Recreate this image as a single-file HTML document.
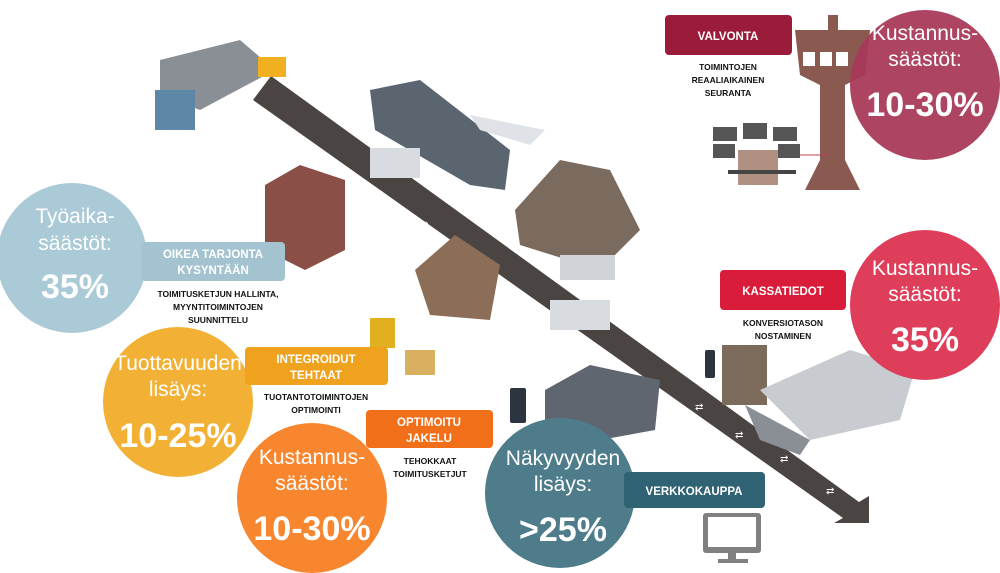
<!DOCTYPE html>
<html><head><meta charset="utf-8"><style>
html,body{margin:0;padding:0;background:#fff;}
body{width:1000px;height:573px;overflow:hidden;position:relative;}
svg{position:absolute;left:0;top:0;}
text{font-family:"Liberation Sans",Arial,sans-serif;}
</style></head><body>
<svg width="1000" height="573" viewBox="0 0 1000 573">
<!-- road -->
<polygon points="271,76 859,502 869,496 869,523 834,523 843,518 253,100" fill="#4a4542"/>
<g fill="#fff" font-size="10">
<text x="288" y="136">⇄</text><text x="375" y="197">⇄</text><text x="420" y="228">⇄</text>
<text x="460" y="258">⇄</text><text x="650" y="395">⇄</text><text x="695" y="410">⇄</text>
<text x="735" y="438">⇄</text><text x="780" y="462">⇄</text><text x="826" y="494">⇄</text>
</g>
<!-- illustrations (approx) -->
<g>
<polygon points="160,60 240,40 275,70 200,110 160,95" fill="#8a8f96"/>
<rect x="155" y="90" width="40" height="40" fill="#5d87a6"/>
<rect x="258" y="57" width="28" height="20" fill="#f0b020"/>
<polygon points="265,185 300,165 345,180 345,250 305,270 265,250" fill="#8a5048"/>
<polygon points="370,90 420,80 510,150 505,190 470,185 375,130" fill="#5a6570"/>
<polygon points="470,115 545,130 530,145 480,130" fill="#dfe3e8"/>
<rect x="370" y="148" width="50" height="30" fill="#d8dce0"/>
<polygon points="515,210 560,160 610,170 640,230 600,270 520,245" fill="#7b6a5e"/>
<rect x="560" y="255" width="55" height="25" fill="#d0d4d8"/>
<polygon points="415,270 455,235 500,265 490,320 430,315" fill="#8c6e58"/>
<rect x="550" y="300" width="60" height="30" fill="#d8dce0"/>
<rect x="405" y="350" width="30" height="25" fill="#d9b060"/>
<rect x="370" y="318" width="25" height="30" fill="#e0b020"/>
<polygon points="545,390 590,365 660,380 655,430 600,440 545,420" fill="#5f6670"/>
<rect x="510" y="388" width="16" height="35" rx="2" fill="#2c3440"/>
<rect x="705" y="350" width="10" height="28" rx="2" fill="#2c3440"/>
<rect x="722" y="345" width="45" height="60" fill="#7c6a5a"/>
<polygon points="760,390 850,350 915,370 900,420 810,440" fill="#c8ccd0"/>
<polygon points="745,405 810,440 800,455 760,440" fill="#8a8f96"/>
<!-- monitor -->
<rect x="703" y="513" width="58" height="40" rx="3" fill="#808080"/>
<rect x="708" y="517" width="48" height="30" fill="#fff"/>
<rect x="728" y="553" width="8" height="8" fill="#808080"/><rect x="718" y="559" width="30" height="4" fill="#808080"/>
<!-- tower -->
<polygon points="828,15 838,15 838,30 828,30" fill="#8a5a50"/>
<polygon points="795,30 870,30 865,75 845,85 845,160 860,190 805,190 820,160 820,85 800,75" fill="#8a5a50"/>
<rect x="803" y="52" width="12" height="14" fill="#fff"/><rect x="820" y="52" width="12" height="14" fill="#fff"/><rect x="836" y="52" width="12" height="14" fill="#fff"/>
<line x1="795" y1="155" x2="830" y2="155" stroke="#c04050" stroke-width="1"/>
<g fill="#555"><rect x="713" y="127" width="24" height="14"/><rect x="743" y="123" width="24" height="16"/><rect x="773" y="127" width="24" height="14"/><rect x="713" y="144" width="22" height="14"/><rect x="778" y="144" width="22" height="14"/></g>
<rect x="738" y="150" width="40" height="35" fill="#b09080"/>
<rect x="728" y="170" width="68" height="4" fill="#444"/>
</g>
<!-- circles -->
<circle cx="72" cy="258" r="75" fill="#a9cad6"/>
<circle cx="178" cy="402" r="75" fill="#f2b134"/>
<circle cx="312" cy="498" r="75" fill="#f7862f"/>
<circle cx="560" cy="493" r="75" fill="#4e7c8b"/>
<circle cx="925" cy="85" r="75" fill="#a83a5a" opacity="0.95"/>
<circle cx="925" cy="305" r="75" fill="#df3e5a"/>
<!-- circle text -->
<g fill="#fff" text-anchor="middle">
<text x="75" y="223" font-size="21">Työaika-</text><text x="75" y="250" font-size="21">säästöt:</text>
<text x="75" y="298" font-size="34" font-weight="bold">35%</text>
<text x="178" y="370" font-size="21">Tuottavuuden</text><text x="178" y="396" font-size="21">lisäys:</text>
<text x="178" y="447" font-size="34" font-weight="bold">10-25%</text>
<text x="312" y="464" font-size="21">Kustannus-</text><text x="312" y="490" font-size="21">säästöt:</text>
<text x="312" y="540" font-size="34" font-weight="bold">10-30%</text>
<text x="563" y="465" font-size="21">Näkyvyyden</text><text x="563" y="491" font-size="21">lisäys:</text>
<text x="563" y="541" font-size="34" font-weight="bold">&gt;25%</text>
<text x="925" y="40" font-size="21">Kustannus-</text><text x="925" y="66" font-size="21">säästöt:</text>
<text x="925" y="116" font-size="34" font-weight="bold">10-30%</text>
<text x="925" y="275" font-size="21">Kustannus-</text><text x="925" y="301" font-size="21">säästöt:</text>
<text x="925" y="351" font-size="34" font-weight="bold">35%</text>
</g>
<!-- label boxes -->
<rect x="141" y="242" width="144" height="39" rx="4" fill="#a4c3d0"/>
<rect x="245" y="347" width="143" height="38" rx="4" fill="#efa21e"/>
<rect x="366" y="410" width="127" height="38" rx="4" fill="#f26f1a"/>
<rect x="624" y="472" width="141" height="36" rx="4" fill="#2f6273"/>
<rect x="665" y="15" width="127" height="40" rx="4" fill="#9b1c3a"/>
<rect x="720" y="270" width="126" height="40" rx="4" fill="#d91c3a"/>
<g fill="#fff" font-weight="bold" font-size="11.5" text-anchor="middle">
<text x="213" y="258">OIKEA TARJONTA</text><text x="213" y="274">KYSYNTÄÄN</text>
<text x="316" y="363">INTEGROIDUT</text><text x="316" y="379">TEHTAAT</text>
<text x="429" y="426">OPTIMOITU</text><text x="429" y="442">JAKELU</text>
<text x="694" y="495">VERKKOKAUPPA</text>
<text x="728" y="40">VALVONTA</text>
<text x="783" y="295">KASSATIEDOT</text>
</g>
<g fill="#111" font-weight="bold" font-size="8.5" text-anchor="middle">
<text x="218" y="297">TOIMITUSKETJUN HALLINTA,</text><text x="218" y="310">MYYNTITOIMINTOJEN</text><text x="218" y="323">SUUNNITTELU</text>
<text x="316" y="400">TUOTANTOTOIMINTOJEN</text><text x="316" y="413">OPTIMOINTI</text>
<text x="430" y="464">TEHOKKAAT</text><text x="430" y="477">TOIMITUSKETJUT</text>
<text x="728" y="70">TOIMINTOJEN</text><text x="728" y="83">REAALIAIKAINEN</text><text x="728" y="96">SEURANTA</text>
<text x="783" y="326">KONVERSIOTASON</text><text x="783" y="339">NOSTAMINEN</text>
</g>
</svg>
</body></html>
